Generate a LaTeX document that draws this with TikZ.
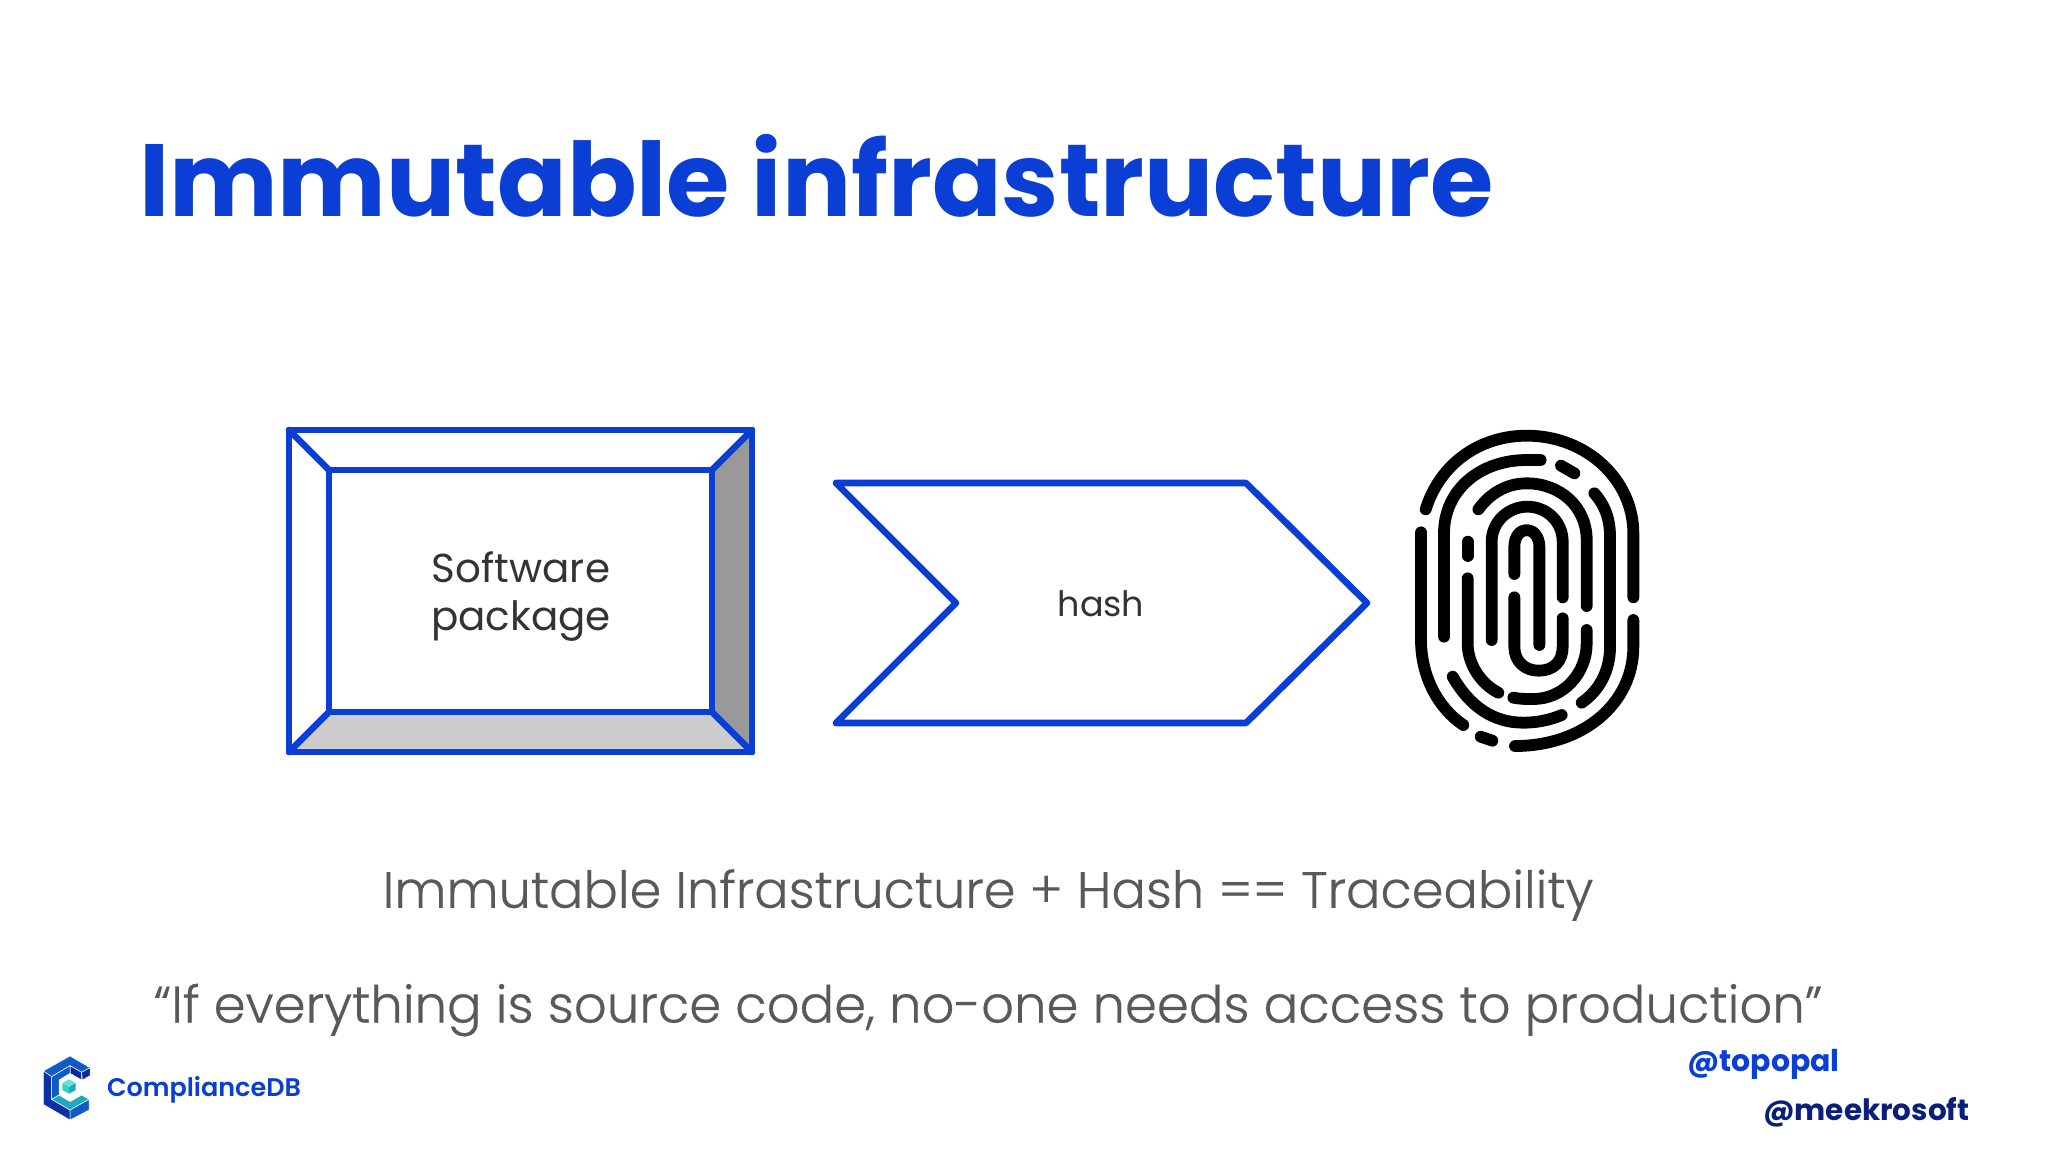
\documentclass[tikz,border=0pt]{standalone}
\usepackage{fontspec}
\setmainfont{Poppins}
\newfontfamily\poplight[FakeBold=0.35]{Poppins Light}
\newfontfamily\popsemi{Poppins SemiBold}
\definecolor{pblue}{HTML}{0A3ED4}
\definecolor{navy}{HTML}{0A1F7A}
\definecolor{tgrey}{HTML}{595959}
\definecolor{dgrey}{HTML}{333333}
\definecolor{lgA}{HTML}{0D2FA8}
\definecolor{lgB}{HTML}{0F5CC8}
\definecolor{lgC}{HTML}{0A2A9A}
\definecolor{lgT}{HTML}{1FA9BE}
\definecolor{lgU}{HTML}{2CD6C0}
\tikzset{
  frame/.style={draw=pblue,line width=3.3pt,line join=round,line cap=round},
  ridge/.style={draw=black,line width=5.9pt,line cap=round,line join=round},
  txt/.style={inner sep=0pt,outer sep=0pt,anchor=base},
  logoface/.style={draw=white,line width=0.25pt,line join=round},
}
\begin{document}
\begin{tikzpicture}[x=0.5pt,y=-0.5pt]
\useasboundingbox (0,0) rectangle (2048,1152);
\fill[white] (0,0) rectangle (2048,1152);
\node[txt,anchor=base west,text=pblue,font=\bfseries\fontsize{51.3}{52}\selectfont] (title) at (139,216) {Immutable infrastructure};
% box
\fill[black!40] (752,430) -- (752,752) -- (712,712) -- (712,470) -- cycle;
\fill[black!20] (289,752) -- (752,752) -- (712,712) -- (329,712) -- cycle;
\draw[frame] (289,430) rectangle (752,752);
\draw[frame] (329,470) rectangle (712,712);
\draw[frame] (289,430) -- (329,470);
\draw[frame] (752,430) -- (712,470);
\draw[frame] (289,752) -- (329,712);
\draw[frame] (752,752) -- (712,712);
\node[text=dgrey,align=center,font=\fontsize{20.2}{24}\selectfont,inner sep=0pt] (pkg) at (521,597) {Software\\package};
% chevron
\draw[frame] (836,483) -- (1246,483) -- (1367,603) -- (1246,723) -- (836,723) -- (956,603) -- cycle;
\node[text=dgrey,font=\fontsize{17.5}{22}\selectfont,inner sep=0pt] (hash) at (1101,604) {hash};
% fingerprint
\begin{scope}[shift={(1380,400)},x=0.16667pt,y=-0.16667pt]
\draw[ridge] (137,328) .. controls (180,190) and (300,107) .. (440,107) .. controls (620,107) and (760,240) .. (760,400) -- (760,592);
\draw[ridge] (123,397) -- (123,720) .. controls (123,830) and (175,925) .. (250,975);
\draw[ridge] (405,1038) .. controls (610,1038) and (760,910) .. (760,740) -- (760,660);
\draw[ridge] (302,1010) -- (337,1022);
\draw[ridge] (192,710) -- (192,400) .. controls (192,270) and (300,180) .. (440,180) -- (482,180);
\draw[ridge] (543,197) -- (583,220);
\draw[ridge] (643,280) .. controls (670,310) and (690,350) .. (690,410) -- (690,740) .. controls (690,810) and (660,870) .. (605,908);
\draw[ridge] (218,830) .. controls (270,920) and (340,968) .. (430,968) .. controls (470,968) and (510,960) .. (545,945);
\draw[ridge] (263,425) -- (263,468);
\draw[ridge] (263,535) -- (263,730) .. controls (263,790) and (300,850) .. (355,878);
\draw[ridge] (295,328) .. controls (330,280) and (380,250) .. (440,250) .. controls (540,250) and (620,320) .. (620,420) -- (620,618);
\draw[ridge] (400,893) .. controls (420,897) and (440,897) .. (460,897) .. controls (550,897) and (620,820) .. (620,730) -- (620,690);
\draw[ridge] (335,720) -- (335,425) .. controls (335,365) and (385,320) .. (442,320) .. controls (500,320) and (548,365) .. (548,425) -- (548,592);
\draw[ridge] (403,522) -- (403,440) .. controls (403,410) and (420,390) .. (440,390) .. controls (460,390) and (478,410) .. (478,440) -- (478,735);
\draw[ridge] (403,592) -- (403,740) .. controls (403,785) and (435,812) .. (476,812) .. controls (520,812) and (548,785) .. (548,740) -- (548,655);
\end{scope}
% texts
\node[text=tgrey,font=\poplight\fontsize{25.5}{30}\selectfont,inner sep=0pt] (l1) at (988,895) {Immutable Infrastructure + Hash == Traceability};
\node[text=tgrey,font=\poplight\fontsize{25.65}{30}\selectfont,inner sep=0pt] (l2) at (988,1010) {“If everything is source code, no-one needs access to production”};
% logo
\begin{scope}[shift={(35,1055)},x=0.16667pt,y=-0.16667pt]
\fill[logoface,fill=lgB] (25,48) -- (105,3) -- (165,38) -- (140,52) -- (105,32) -- (50,65) -- cycle;
\fill[logoface,fill=lgA] (25,48) -- (50,65) -- (50,133) -- (105,165) -- (105,195) -- (25,148) -- cycle;
\fill[logoface,fill=lgC] (140,52) -- (165,38) -- (165,62) -- (142,75) -- cycle;
\fill[logoface,fill=lgC] (105,32) -- (140,52) -- (140,75) -- (105,55) -- cycle;
\fill[logoface,fill=lgB] (50,65) -- (105,32) -- (105,55) -- (72,75) -- (72,120) -- (50,133) -- cycle;
\fill[logoface,fill=lgT] (72,120) -- (105,140) -- (140,120) -- (162,133) -- (105,165) -- (50,133) -- cycle;
\fill[logoface,fill=lgB] (105,165) -- (162,133) -- (162,165) -- (105,195) -- cycle;
\fill[lgT] (102,95) -- (122,84) -- (122,105) -- (102,116) -- cycle;
\fill[lgU] (102,95) -- (82,84) -- (82,105) -- (102,116) -- cycle;
\fill[lgU!70!white] (102,73) -- (122,84) -- (102,95) -- (82,84) -- cycle;
\end{scope}
\node[txt,anchor=base west,text=pblue,font=\popsemi\fontsize{12.75}{16}\selectfont] (brand) at (107,1096) {ComplianceDB};
\node[txt,anchor=base west,text=pblue,font=\bfseries\fontsize{15}{16}\selectfont] (h1) at (1687,1071) {@topopal};
\node[txt,anchor=base west,text=navy,font=\bfseries\fontsize{14.7}{16}\selectfont] (h2) at (1763,1120) {@meekrosoft};
\end{tikzpicture}
\end{document}
